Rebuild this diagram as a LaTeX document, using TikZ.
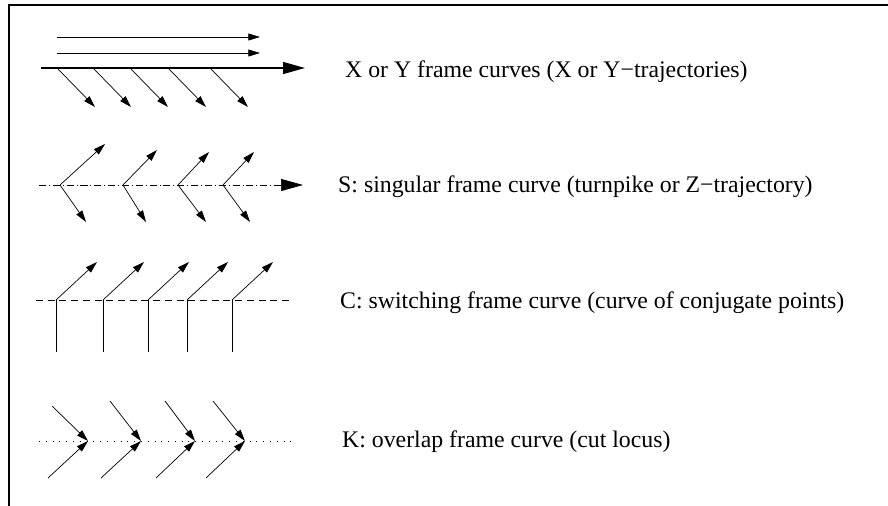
\documentclass[tikz,border=0pt]{standalone}
\usepackage{fontspec}
\setmainfont{Liberation Serif}
\usetikzlibrary{arrows.meta}

\begin{document}
\begin{tikzpicture}[
  x=0.03cm, y=-0.03cm,
  font=\fontsize{20.3}{24}\selectfont,
  thin line/.style={line width=0.6pt, black},
  ray/.style={thin line, -{Triangle[length=0.35cm, width=0.21cm]}},
  bigtip/.style={-{Triangle[length=0.66cm, width=0.36cm]}},
  main/.style={line width=1.1pt, bigtip},
  dashdot/.style={line width=0.6pt, dash pattern=on 6pt off 2.5pt on 0.8pt off 2.5pt},
  lbl/.style={anchor=base west, inner sep=0pt}
]
  \useasboundingbox (0,0) rectangle (888,506);
  % frame
  \draw[line width=0.9pt] (888,5) -- (9,5) -- (9,506);

  % X or Y frame curves
  \coordinate (xa) at (57,37);  \coordinate (xb) at (260,37);
  \coordinate (ya) at (57,53);  \coordinate (yb) at (260,53);
  \coordinate (ma) at (41,68);  \coordinate (mb) at (305,68);
  \draw[ray] (xa) -- (xb);
  \draw[ray] (ya) -- (yb);
  \draw[main] (ma) -- (mb);
  \foreach \i/\x in {1/58, 2/94, 3/131, 4/169, 5/211} {
    \coordinate (p\i) at (\x,69);
    \draw[ray] (p\i) -- ++(37,38);
  }
  \node[lbl] (txy) at (345,78) {X or Y frame curves (X or Y−trajectories)};

  % S: singular
  \coordinate (sa) at (39,185); \coordinate (sm) at (279,185); \coordinate (sb) at (303,185);
  \draw[dashdot] (sa) -- (sm);
  \draw[thin line, bigtip] (sm) -- (sb);
  \foreach \i/\x/\ux/\uy/\dx in {1/60/105/144/86, 2/123/157/150/146, 3/178/209/152/206, 4/223/254/152/250} {
    \coordinate (s\i) at (\x,185);
    \coordinate (su\i) at (\ux,\uy);
    \coordinate (sd\i) at (\dx,222);
    \draw[ray] (s\i) -- (su\i);
    \draw[ray] (s\i) -- (sd\i);
  }
  \node[lbl] (ts) at (338,192) {S: singular frame curve (turnpike or Z−trajectory)};

  % C: switching
  \coordinate (ca) at (36,300); \coordinate (cb) at (293,300);
  \draw[thin line, dash pattern=on 6pt off 4pt] (ca) -- (cb);
  \foreach \i/\x in {1/56, 2/103, 3/148, 4/187, 5/232} {
    \coordinate (c\i) at (\x,300);
    \draw[thin line] (\x,352) -- (c\i);
    \draw[ray] (c\i) -- ++(41,-38);
  }
  \node[lbl] (tc) at (340,308) {C: switching frame curve (curve of conjugate points)};

  % K: overlap
  \coordinate (ka) at (39,441); \coordinate (kb) at (295,441);
  \draw[thin line, dash pattern=on 0.8pt off 5pt] (ka) -- (kb);
  \foreach \i/\x/\ux/\uy/\lx in {1/88/52/406/48, 2/141/110/401/101, 3/195/165/401/156, 4/245/213/401/206} {
    \coordinate (k\i) at (\x,441);
    \draw[ray] (\ux,\uy) -- (k\i);
    \draw[ray] (\lx,478) -- (k\i);
  }
  \node[lbl] (tk) at (342,447) {K: overlap frame curve (cut locus)};
\end{tikzpicture}
\end{document}
